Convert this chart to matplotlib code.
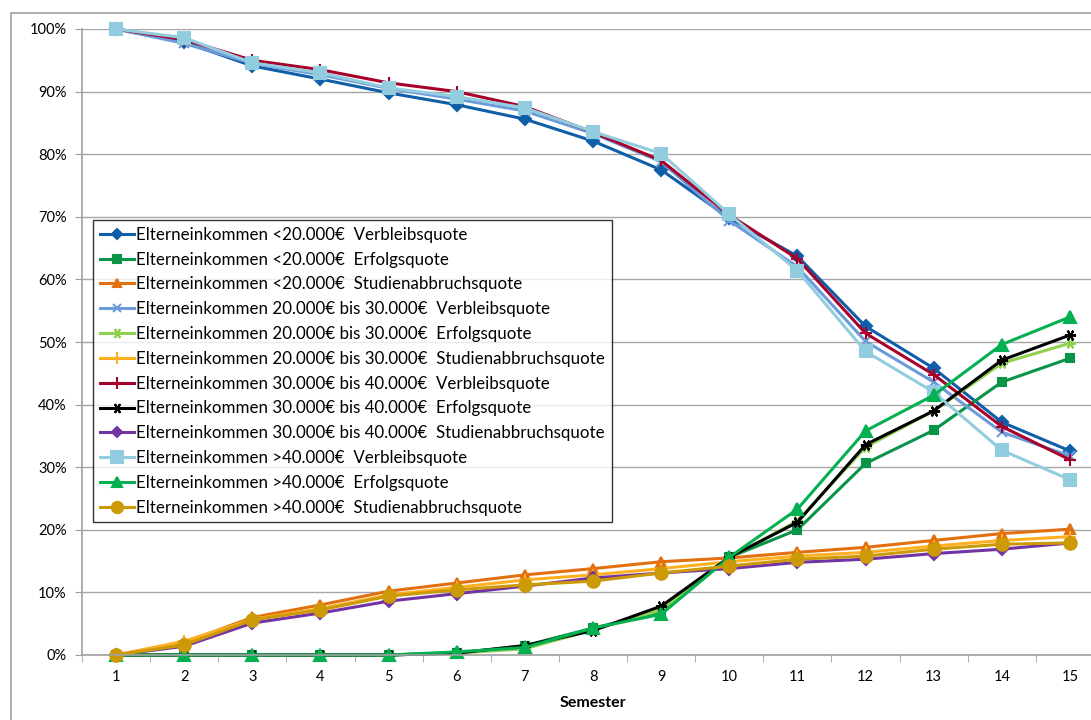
import numpy as np
import matplotlib
matplotlib.use("Agg")
from matplotlib import pyplot as plt
from matplotlib.patches import Rectangle
from matplotlib.ticker import FixedLocator, PercentFormatter

plt.rcParams['font.family'] = ['Lato', 'DejaVu Sans']

#   data (percent)
semester = list(range(1, 16))

lt20_verbleib = [100, 97.9, 94.1, 92.0, 89.8, 87.9, 85.6, 82.1, 77.5, 69.8, 63.7, 52.5, 45.8, 37.2, 32.6]
lt20_erfolg = [0, 0, 0, 0, 0, 0.3, 1.5, 4.3, 6.8, 15.6, 20.0, 30.6, 35.9, 43.6, 47.4]
lt20_abbruch = [0, 2.0, 6.0, 8.0, 10.2, 11.5, 12.8, 13.8, 14.9, 15.5, 16.4, 17.2, 18.3, 19.4, 20.1]

m20_30_verbleib = [100, 97.7, 94.5, 92.7, 90.5, 88.8, 86.9, 83.3, 78.8, 69.4, 62.0, 50.1, 43.6, 35.6, 31.8]
m20_30_erfolg = [0, 0, 0, 0, 0, 0.3, 1.0, 4.0, 7.2, 15.5, 21.4, 33.2, 39.0, 46.6, 49.8]
m20_30_abbruch = [0, 2.2, 5.7, 7.4, 9.6, 10.8, 12.0, 12.8, 13.8, 14.9, 15.8, 16.4, 17.4, 18.3, 18.9]

m30_40_verbleib = [100, 98.3, 95.0, 93.5, 91.4, 90.0, 87.6, 83.5, 79.0, 70.3, 63.3, 51.4, 44.8, 36.5, 31.2]
m30_40_erfolg = [0, 0, 0, 0, 0, 0.3, 1.5, 3.9, 7.8, 15.6, 21.2, 33.6, 39.0, 47.1, 51.1]
m30_40_abbruch = [0, 1.4, 5.1, 6.7, 8.6, 9.8, 11.0, 12.3, 13.1, 13.8, 14.8, 15.3, 16.2, 16.9, 17.9]

gt40_verbleib = [100, 98.6, 94.6, 93.0, 90.6, 89.2, 87.4, 83.6, 80.1, 70.4, 61.4, 48.5, 42.0, 32.7, 28.0]
gt40_erfolg = [0, 0, 0, 0, 0, 0.5, 1.2, 4.3, 6.5, 15.6, 23.3, 35.8, 41.5, 49.6, 54.0]
gt40_abbruch = [0, 1.6, 5.6, 7.2, 9.4, 10.4, 11.2, 11.8, 13.1, 14.2, 15.3, 15.8, 16.9, 17.7, 17.9]

ASTERISK = (6, 2, 30)

series = [
    ('Elterneinkommen <20.000€  Verbleibsquote', lt20_verbleib, '#0E5EA8', 'D', 6),
    ('Elterneinkommen <20.000€  Erfolgsquote', lt20_erfolg, '#0A9447', 's', 6),
    ('Elterneinkommen <20.000€  Studienabbruchsquote', lt20_abbruch, '#E2700F', '^', 7),
    ('Elterneinkommen 20.000€ bis 30.000€  Verbleibsquote', m20_30_verbleib, '#6C9BDB', 'x', 7),
    ('Elterneinkommen 20.000€ bis 30.000€  Erfolgsquote', m20_30_erfolg, '#8FD14F', ASTERISK, 8),
    ('Elterneinkommen 20.000€ bis 30.000€  Studienabbruchsquote', m20_30_abbruch, '#FFB020', '+', 9),
    ('Elterneinkommen 30.000€ bis 40.000€  Verbleibsquote', m30_40_verbleib, '#A7002A', '+', 9),
    ('Elterneinkommen 30.000€ bis 40.000€  Erfolgsquote', m30_40_erfolg, '#000000', ASTERISK, 8),
    ('Elterneinkommen 30.000€ bis 40.000€  Studienabbruchsquote', m30_40_abbruch, '#7234A2', 'D', 6),
    ('Elterneinkommen >40.000€  Verbleibsquote', gt40_verbleib, '#92CDDF', 's', 9),
    ('Elterneinkommen >40.000€  Erfolgsquote', gt40_erfolg, '#05B050', '^', 8),
    ('Elterneinkommen >40.000€  Studienabbruchsquote', gt40_abbruch, '#CC9A06', 'o', 9),
]


def main():
    fig = plt.figure(figsize=(10.91, 7.2), dpi=100)
    #   plot area in pixels: left 82, right 1104 (cut off), top 29, bottom 655
    ax = fig.add_axes([82 / 1091, 65 / 720, 1022 / 1091, 626 / 720])

    for label, values, color, marker, msize in series:
        ax.plot(semester, values, color=color, lw=2.2, marker=marker, ms=msize,
                mew=1.5, mec=color, mfc=color, label=label, clip_on=False)

    ax.set_xlim(0.5, 15.5)
    ax.set_ylim(0, 100)

    ax.yaxis.set_major_locator(FixedLocator(np.arange(0, 101, 10)))
    ax.yaxis.set_major_formatter(PercentFormatter(decimals=0))
    ax.xaxis.set_major_locator(FixedLocator(semester))
    ax.xaxis.set_minor_locator(FixedLocator(np.arange(0.5, 16, 1)))
    ax.tick_params(axis='x', which='major', length=0, pad=11, labelsize=10.5)
    ax.tick_params(axis='x', which='minor', length=5, color='#A0A0A0', direction='out')
    ax.tick_params(axis='y', length=5, color='#A0A0A0', pad=6, labelsize=10.5)

    ax.grid(axis='y', color='#A6A6A6', lw=1)
    ax.set_axisbelow(True)
    for side in ('top', 'right'):
        ax.spines[side].set_visible(False)
    for side in ('left', 'bottom'):
        ax.spines[side].set_color('#A0A0A0')
        ax.spines[side].set_linewidth(1.2)

    ax.set_xlabel('Semester', fontweight='bold', fontsize=11.5)
    ax.xaxis.set_label_coords((593 - 82) / 1022, -41 / 626)

    leg = ax.legend(loc='upper left', bbox_to_anchor=(11 / 1022, (655 - 220) / 626),
                    borderaxespad=0, fontsize=12.2, fancybox=False, frameon=True,
                    handlelength=2.0, handletextpad=0.15, labelspacing=0.52,
                    borderpad=0.4, markerscale=0.9)
    leg.get_frame().set_edgecolor('#000000')
    leg.get_frame().set_linewidth(1.0)

    #   chart area border
    fig.add_artist(Rectangle((11 / 1091, -0.1), 1.2, 1.1 - 13 / 720,
                             transform=fig.transFigure, fill=False,
                             edgecolor='#A0A0A0', lw=1.2))

    fig.savefig('out.png', dpi=100)


if __name__ == '__main__':
    main()
